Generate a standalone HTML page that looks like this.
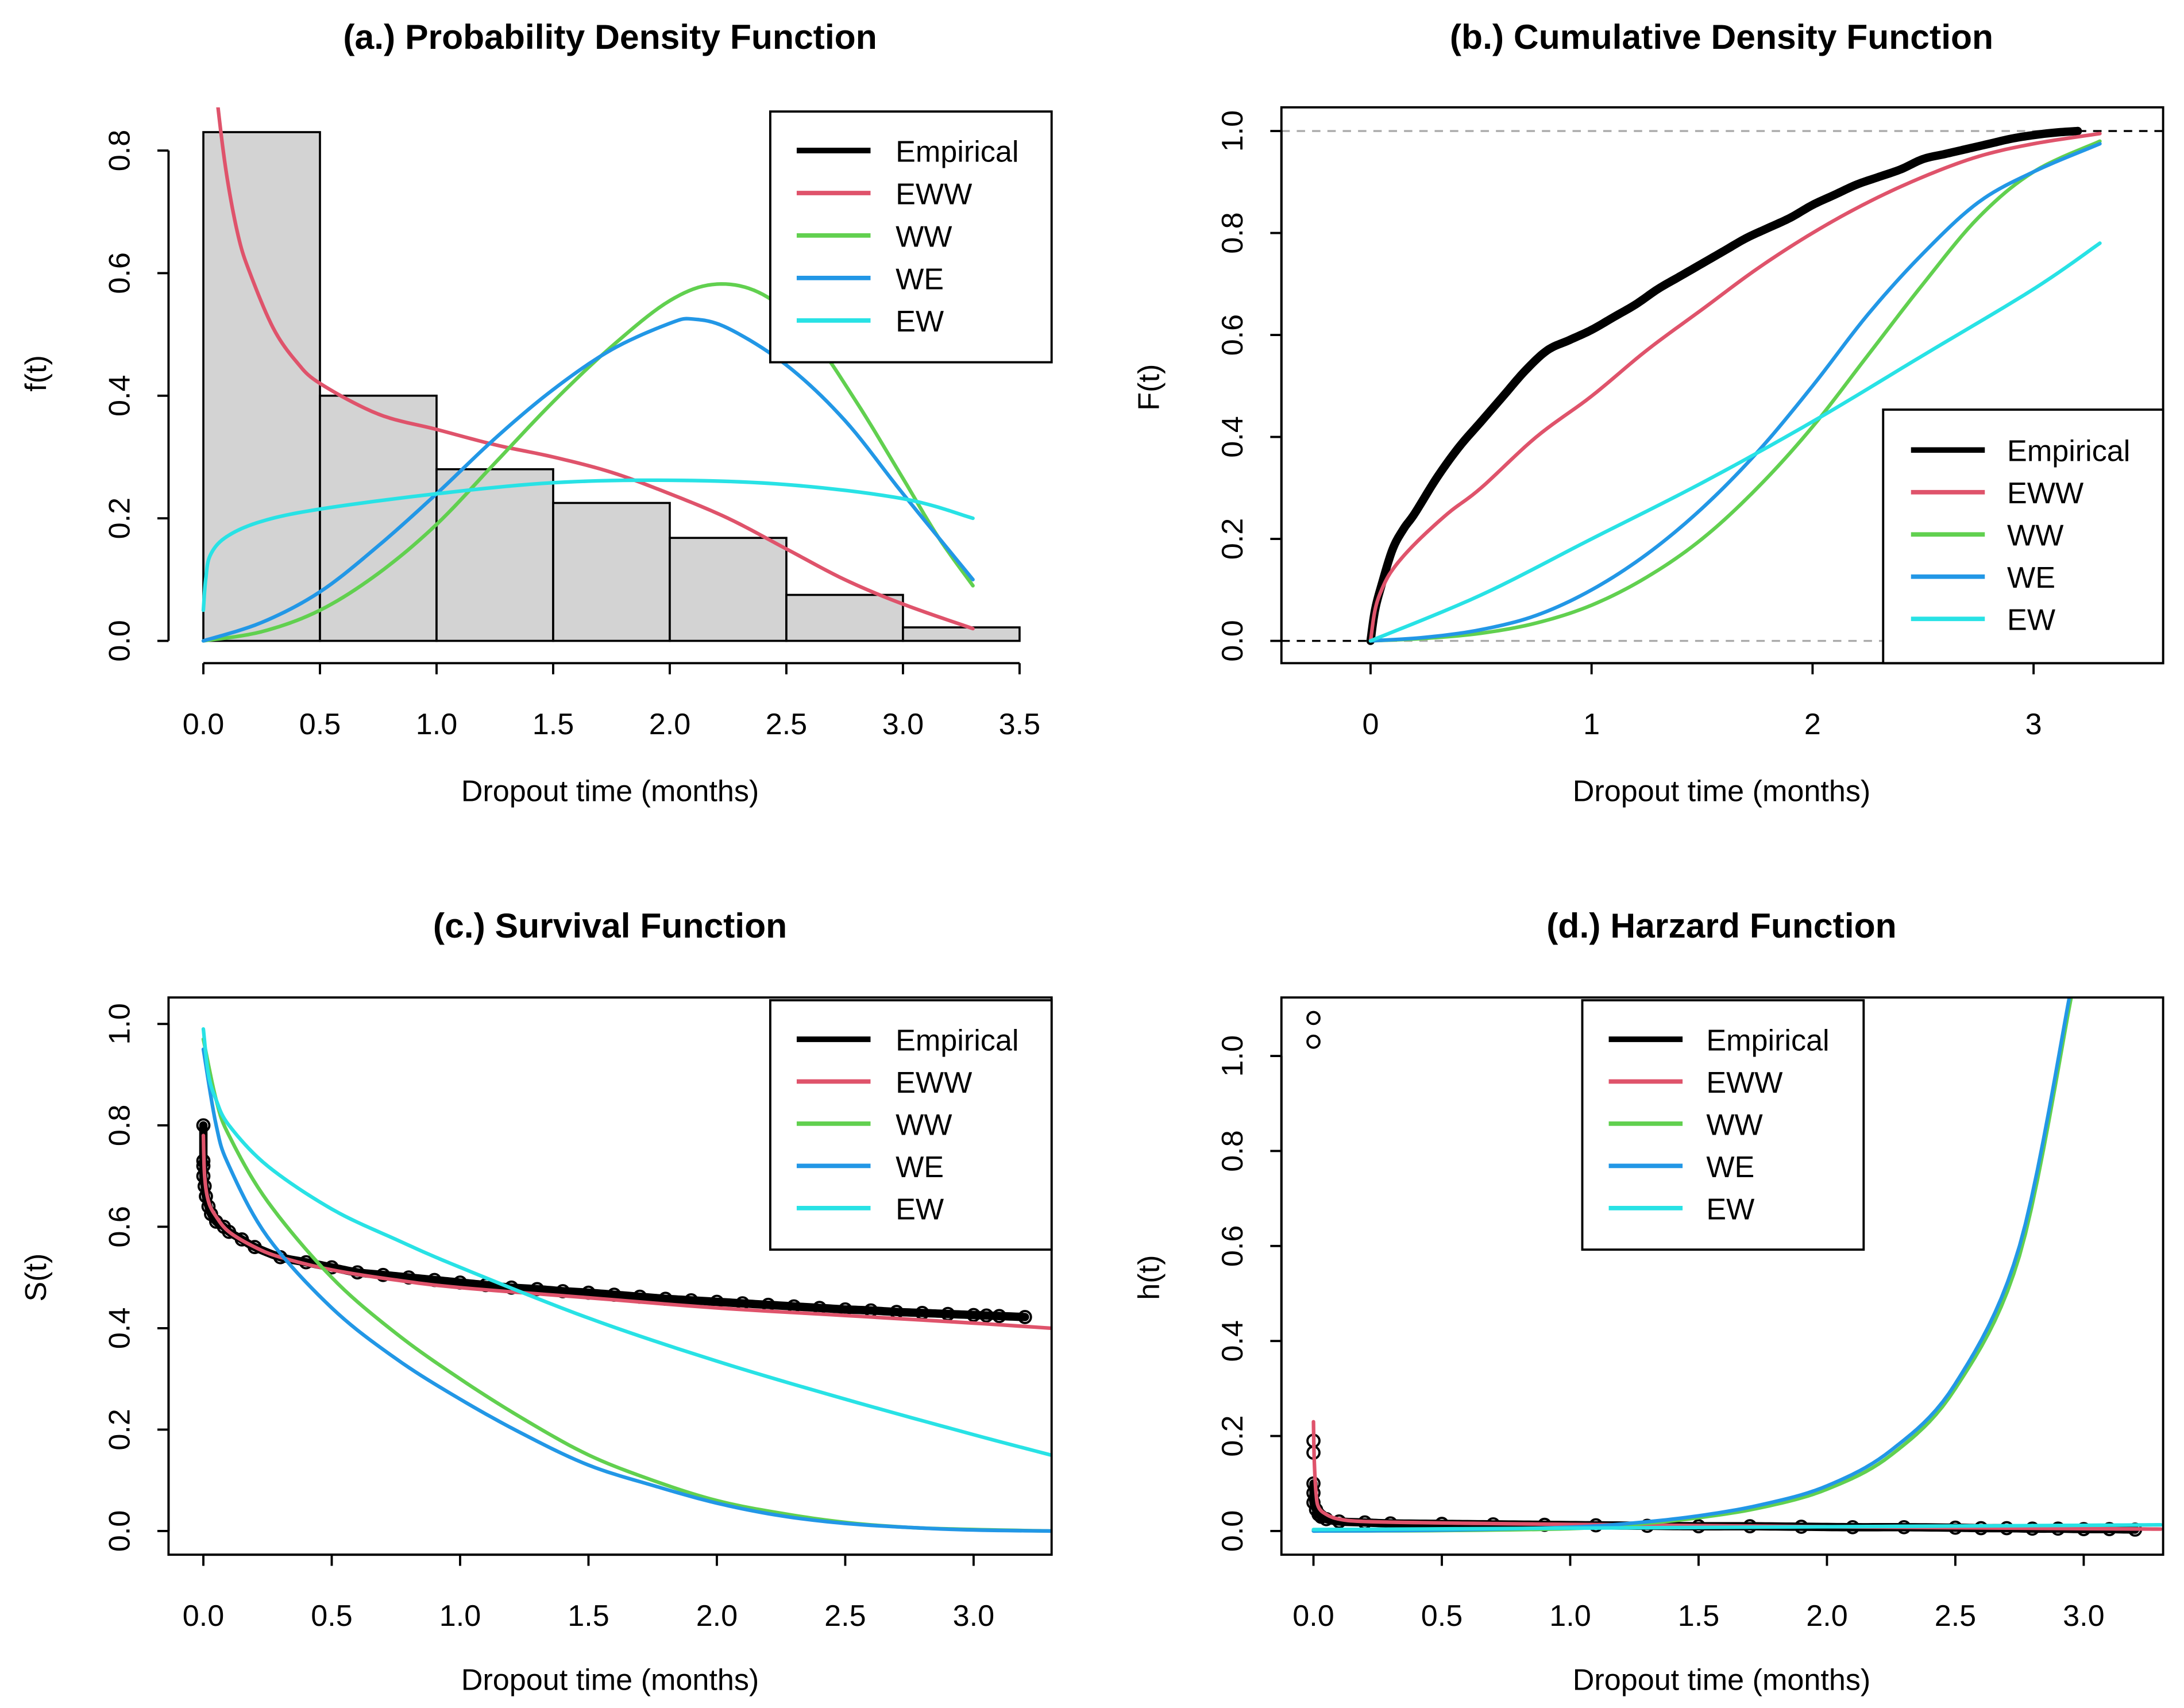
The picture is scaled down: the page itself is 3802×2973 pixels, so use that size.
<!DOCTYPE html>
<html><head><meta charset="utf-8"><style>
html,body{margin:0;padding:0;background:#fff}
svg{display:block}
text{font-family:"Liberation Sans",Arial,sans-serif}
</style></head><body>
<svg id="chart" width="3802" height="2973" viewBox="0 0 1568 1226" xmlns="http://www.w3.org/2000/svg">
<rect width="1568" height="1226" fill="#fff"/>
<defs>
<clipPath id="clipA"><rect x="121" y="77" width="634" height="399"/></clipPath>
<clipPath id="clipB"><rect x="920" y="77" width="633" height="399"/></clipPath>
<clipPath id="clipC"><rect x="121" y="716" width="634" height="400"/></clipPath>
<clipPath id="clipD"><rect x="920" y="716" width="633" height="400"/></clipPath>
</defs>
</svg>
<script>
// ===== DATA =====
const seriesNames = ["Empirical","EWW","WW","WE","EW"];
const seriesColors = ["#000000","#DF536B","#61D04F","#2297E6","#28E2E5"];
// Panel a: histogram + PDFs
const histBreaks = [0,0.5,1.0,1.5,2.0,2.5,3.0,3.5];
const histDensity = [0.83,0.40,0.28,0.225,0.168,0.075,0.022];
const pdfX_EWW = [0.03,0.06,0.1,0.15,0.2,0.3,0.4,0.5,0.75,1.0,1.25,1.5,1.75,2.0,2.25,2.5,2.75,3.0,3.3];
const pdfY_EWW = [1.0,0.88,0.76,0.66,0.6,0.51,0.455,0.42,0.37,0.345,0.32,0.30,0.275,0.24,0.2,0.15,0.1,0.06,0.02];
const pdfX_WW = [0,0.25,0.5,0.75,1.0,1.25,1.5,1.75,2.0,2.2,2.4,2.6,2.8,3.0,3.15,3.3];
const pdfY_WW = [0,0.015,0.05,0.11,0.19,0.29,0.39,0.48,0.555,0.582,0.565,0.5,0.39,0.265,0.17,0.09];
const pdfX_WE = [0,0.25,0.5,0.75,1.0,1.25,1.5,1.75,2.0,2.1,2.25,2.5,2.75,3.0,3.3];
const pdfY_WE = [0,0.03,0.08,0.155,0.24,0.33,0.41,0.475,0.518,0.525,0.51,0.45,0.36,0.24,0.10];
const pdfX_EW = [0,0.01,0.03,0.1,0.25,0.5,1.0,1.5,2.0,2.5,3.0,3.3];
const pdfY_EW = [0.05,0.1,0.14,0.17,0.195,0.215,0.24,0.258,0.262,0.255,0.232,0.2];
// Panel b: CDFs
const cdfX_Emp = [0,0.02,0.05,0.1,0.15,0.2,0.3,0.4,0.5,0.6,0.7,0.8,0.9,1.0,1.1,1.2,1.3,1.4,1.5,1.6,1.7,1.8,1.9,2.0,2.1,2.2,2.3,2.4,2.5,2.6,2.7,2.8,2.9,3.0,3.1,3.2];
const cdfY_Emp = [0,0.06,0.11,0.18,0.22,0.25,0.32,0.38,0.43,0.48,0.53,0.57,0.59,0.61,0.635,0.66,0.69,0.715,0.74,0.765,0.79,0.81,0.83,0.855,0.875,0.895,0.91,0.925,0.945,0.955,0.965,0.975,0.985,0.992,0.997,1.0];
const cdfX_EWW = [0,0.02,0.05,0.1,0.2,0.35,0.5,0.75,1.0,1.25,1.5,1.75,2.0,2.25,2.5,2.75,3.0,3.3];
const cdfY_EWW = [0,0.06,0.1,0.14,0.19,0.25,0.3,0.4,0.48,0.57,0.65,0.73,0.8,0.86,0.91,0.95,0.975,0.995];
const cdfX_WW = [0,0.25,0.5,0.75,1.0,1.25,1.5,1.75,2.0,2.25,2.5,2.75,3.0,3.3];
const cdfY_WW = [0,0.005,0.015,0.035,0.07,0.125,0.2,0.3,0.42,0.56,0.7,0.83,0.92,0.98];
const cdfX_WE = [0,0.25,0.5,0.75,1.0,1.25,1.5,1.75,2.0,2.25,2.5,2.75,3.0,3.3];
const cdfY_WE = [0,0.007,0.022,0.05,0.1,0.17,0.26,0.37,0.5,0.64,0.76,0.86,0.92,0.975];
const cdfX_EW = [0,0.5,1.0,1.5,2.0,2.5,3.0,3.3];
const cdfY_EW = [0,0.09,0.2,0.31,0.43,0.56,0.69,0.78];
// Panel c: survival
const survX_Emp = [0,0,0,0,0.005,0.01,0.02,0.03,0.05,0.08,0.1,0.15,0.2,0.3,0.4,0.5,0.6,0.7,0.8,0.9,1.0,1.1,1.2,1.3,1.4,1.5,1.6,1.7,1.8,1.9,2.0,2.1,2.2,2.3,2.4,2.5,2.6,2.7,2.8,2.9,3.0,3.05,3.1,3.2];
const survY_Emp = [0.8,0.73,0.72,0.7,0.68,0.66,0.64,0.625,0.61,0.6,0.59,0.575,0.56,0.54,0.53,0.52,0.51,0.505,0.5,0.495,0.49,0.485,0.48,0.477,0.473,0.47,0.466,0.462,0.458,0.455,0.452,0.449,0.446,0.443,0.44,0.437,0.435,0.432,0.43,0.428,0.426,0.425,0.424,0.422];
const survX_EWW = [0,0.005,0.02,0.05,0.1,0.2,0.3,0.5,0.75,1.0,1.5,2.0,2.5,3.0,3.3];
const survY_EWW = [0.78,0.7,0.65,0.62,0.59,0.56,0.54,0.515,0.495,0.48,0.46,0.44,0.425,0.41,0.4];
const survX_WW = [0,0.05,0.1,0.25,0.5,0.75,1.0,1.25,1.5,1.75,2.0,2.25,2.5,2.75,3.0,3.3];
const survY_WW = [0.97,0.85,0.78,0.65,0.5,0.39,0.3,0.22,0.15,0.1,0.06,0.035,0.017,0.007,0.003,0];
const survX_WE = [0,0.05,0.1,0.25,0.5,0.75,1.0,1.25,1.5,1.75,2.0,2.25,2.5,2.75,3.0,3.3];
const survY_WE = [0.95,0.8,0.72,0.58,0.44,0.34,0.26,0.19,0.13,0.09,0.055,0.03,0.015,0.007,0.002,0];
const survX_EW = [0,0.02,0.05,0.1,0.25,0.5,0.75,1.0,1.5,2.0,2.5,3.0,3.3];
const survY_EW = [0.99,0.9,0.85,0.8,0.72,0.635,0.575,0.52,0.42,0.335,0.26,0.19,0.15];
// Panel d: hazard
const hazX_Emp = [0,0,0,0,0,0,0,0.01,0.02,0.03,0.05,0.1,0.2,0.3,0.5,0.7,0.9,1.1,1.3,1.5,1.7,1.9,2.1,2.3,2.5,2.6,2.7,2.8,2.9,3.0,3.1,3.2];
const hazY_Emp = [1.08,1.03,0.19,0.165,0.1,0.08,0.06,0.045,0.035,0.03,0.025,0.02,0.018,0.016,0.015,0.014,0.013,0.012,0.011,0.01,0.01,0.009,0.008,0.008,0.007,0.006,0.006,0.005,0.005,0.004,0.004,0.003];
const hazX_EWW = [0,0.003,0.01,0.02,0.05,0.1,0.2,0.5,1.0,2.0,3.0,3.3];
const hazY_EWW = [0.23,0.15,0.08,0.05,0.035,0.025,0.02,0.017,0.014,0.009,0.005,0.004];
const hazX_WW = [0,0.5,1.0,1.25,1.5,1.75,2.0,2.25,2.5,2.75,2.95];
const hazY_WW = [0,0.001,0.005,0.014,0.028,0.05,0.088,0.16,0.3,0.58,1.12];
const hazX_WE = [0,0.5,1.0,1.25,1.5,1.75,2.0,2.25,2.5,2.75,2.95];
const hazY_WE = [0,0.002,0.008,0.017,0.032,0.056,0.095,0.17,0.31,0.6,1.14];
const hazX_EW = [0,1.0,2.0,3.0,3.3];
const hazY_EW = [0.003,0.006,0.009,0.012,0.013];

// ===== DRAWING =====
const svg = document.getElementById('chart');
const NS = 'http://www.w3.org/2000/svg';
const FS = 21.5, TFS = 25;
function mk(tag, attrs, parent, txt){
  const e = document.createElementNS(NS, tag);
  for (const k in attrs) e.setAttribute(k, attrs[k]);
  if (txt !== undefined) e.textContent = txt;
  (parent||svg).appendChild(e);
  return e;
}
function lin(d0,d1,r0,r1){return v=>r0+(v-d0)*(r1-r0)/(d1-d0);}
function smooth(xs, ys){
  const pts=[];
  const n=xs.length;
  for(let i=0;i<n-1;i++){
    const p0=[xs[Math.max(0,i-1)],ys[Math.max(0,i-1)]],p1=[xs[i],ys[i]],p2=[xs[i+1],ys[i+1]],p3=[xs[Math.min(n-1,i+2)],ys[Math.min(n-1,i+2)]];
    for(let t=0;t<1;t+=0.1){
      const t2=t*t,t3=t2*t;
      const f=(a,b,c,d)=>0.5*((2*b)+(-a+c)*t+(2*a-5*b+4*c-d)*t2+(-a+3*b-3*c+d)*t3);
      pts.push([f(p0[0],p1[0],p2[0],p3[0]),f(p0[1],p1[1],p2[1],p3[1])]);
    }
  }
  pts.push([xs[n-1],ys[n-1]]);
  return pts;
}
function curve(g, xs, ys, sx, sy, color, name, w){
  const pts = smooth(xs, ys);
  const d = pts.map((p,i)=>(i?'L':'M')+sx(p[0]).toFixed(2)+','+sy(p[1]).toFixed(2)).join('');
  const p = mk('path',{d:d,fill:'none',stroke:color,'stroke-width':w||2.6,'stroke-linejoin':'round','stroke-linecap':'round'},g);
  
  
  return p;
}
function points(g, xs, ys, sx, sy, name){
  const grp = mk('g',{},g);
  
  
  for(let i=0;i<xs.length;i++){
    const c = mk('circle',{cx:sx(xs[i]),cy:sy(ys[i]),r:4.3,fill:'none',stroke:'#000','stroke-width':1.6},grp);
    
    
  }
}
function xAxis(g, ticks, labels, sx, y, name){
  const ax = mk('g',{},g);
  
  
  mk('line',{x1:sx(ticks[0]),x2:sx(ticks[ticks.length-1]),y1:y,y2:y,stroke:'#000','stroke-width':1.6},ax);
  ticks.forEach((t,i)=>{
    mk('line',{x1:sx(t),x2:sx(t),y1:y,y2:y+8,stroke:'#000','stroke-width':1.6},ax);
    const tl = mk('text',{x:sx(t),y:y+51,'font-size':FS,'text-anchor':'middle'},ax,labels[i]);
    
    
  });
}
function yAxis(g, ticks, labels, sy, x, name){
  const ax = mk('g',{},g);
  
  
  mk('line',{x1:x,x2:x,y1:sy(ticks[0]),y2:sy(ticks[ticks.length-1]),stroke:'#000','stroke-width':1.6},ax);
  ticks.forEach((t,i)=>{
    mk('line',{x1:x-8,x2:x,y1:sy(t),y2:sy(t),stroke:'#000','stroke-width':1.6},ax);
    const tx = x-28, ty = sy(t);
    const tl = mk('text',{x:tx,y:ty,'font-size':FS,'text-anchor':'middle',transform:`rotate(-90 ${tx} ${ty})`},ax,labels[i]);
    
    
  });
}
function labels(g, title, tx, ty, ylab, ylx, yly, xlx, xly){
  const t = mk('text',{x:tx,y:ty,'font-size':TFS,'font-weight':'bold','text-anchor':'middle'},g,title);
  
  
  const yl = mk('text',{x:ylx,y:yly,'font-size':FS,'text-anchor':'middle',transform:`rotate(-90 ${ylx} ${yly})`},g,ylab);
  
  
  const xl = mk('text',{x:xlx,y:xly,'font-size':FS,'text-anchor':'middle'},g,'Dropout time (months)');
  
  
}
function legend(g, x, y, w, h, lineX, textX, rowY0, rowDy){
  const lg = mk('g',{},g);
  
  
  mk('rect',{x:x,y:y,width:w,height:h,fill:'#fff',stroke:'#000','stroke-width':1.6},lg);
  seriesNames.forEach((n,i)=>{
    const ry = rowY0 + i*rowDy;
    const e = mk('g',{},lg);
    
    
    mk('line',{x1:lineX,x2:lineX+53,y1:ry,y2:ry,stroke:seriesColors[i],'stroke-width':i===0?4:3.2},e);
    mk('text',{x:textX,y:ry+8,'font-size':FS},e,n);
  });
}
function box(g,x,y,w,h){mk('rect',{x:x,y:y,width:w,height:h,fill:'none',stroke:'#000','stroke-width':1.6},g);}

// ---- Panel A
(function(){
  const g = mk('g',{});  
  const sx = lin(0,3.5,146,732), sy = lin(0,0.8,460,108);
  const hg = mk('g',{},g);  
  histDensity.forEach((d,i)=>{
    const r = mk('rect',{x:sx(histBreaks[i]),y:sy(d),width:sx(histBreaks[i+1])-sx(histBreaks[i]),height:sy(0)-sy(d),fill:'#D3D3D3',stroke:'#000','stroke-width':1.5},hg);
    
    
  });
  const cg = mk('g',{'clip-path':'url(#clipA)'},g);
  curve(cg,pdfX_EWW,pdfY_EWW,sx,sy,seriesColors[1],'eww-pdf-curve');
  curve(cg,pdfX_WW,pdfY_WW,sx,sy,seriesColors[2],'ww-pdf-curve');
  curve(cg,pdfX_WE,pdfY_WE,sx,sy,seriesColors[3],'we-pdf-curve');
  curve(cg,pdfX_EW,pdfY_EW,sx,sy,seriesColors[4],'ew-pdf-curve');
  xAxis(g,[0,0.5,1,1.5,2,2.5,3,3.5],['0.0','0.5','1.0','1.5','2.0','2.5','3.0','3.5'],sx,476,'x-axis');
  yAxis(g,[0,0.2,0.4,0.6,0.8],['0.0','0.2','0.4','0.6','0.8'],sy,121,'y-axis');
  legend(g,553,80,202,180,572,643,108,30.5);
  labels(g,'(a.) Probability Density Function',438,35,'f(t)',33,268,438,575);
})();
// ---- Panel B
(function(){
  const g = mk('g',{});  
  const sx = lin(0,3,984,1460), sy = lin(0,1,460,94);
  mk('line',{x1:920,x2:1553,y1:sy(0),y2:sy(0),stroke:'#aaa','stroke-width':1.4,'stroke-dasharray':'6,5'},g);
  mk('line',{x1:920,x2:1553,y1:sy(1),y2:sy(1),stroke:'#aaa','stroke-width':1.4,'stroke-dasharray':'6,5'},g);
  mk('line',{x1:920,x2:sx(0),y1:sy(0),y2:sy(0),stroke:'#000','stroke-width':1.4,'stroke-dasharray':'6,5'},g);
  mk('line',{x1:sx(3.2),x2:1553,y1:sy(1),y2:sy(1),stroke:'#000','stroke-width':1.4,'stroke-dasharray':'6,5'},g);
  const cg = mk('g',{'clip-path':'url(#clipB)'},g);
  curve(cg,cdfX_Emp,cdfY_Emp,sx,sy,'#000','empirical-cdf',6);
  curve(cg,cdfX_EWW,cdfY_EWW,sx,sy,seriesColors[1],'eww-cdf-curve');
  curve(cg,cdfX_WW,cdfY_WW,sx,sy,seriesColors[2],'ww-cdf-curve');
  curve(cg,cdfX_WE,cdfY_WE,sx,sy,seriesColors[3],'we-cdf-curve');
  curve(cg,cdfX_EW,cdfY_EW,sx,sy,seriesColors[4],'ew-cdf-curve');
  box(g,920,77,633,399);
  xAxis(g,[0,1,2,3],['0','1','2','3'],sx,476,'x-axis');
  yAxis(g,[0,0.2,0.4,0.6,0.8,1.0],['0.0','0.2','0.4','0.6','0.8','1.0'],sy,920,'y-axis');
  legend(g,1352,294,201,182,1372,1441,323,30.3);
  labels(g,'(b.) Cumulative Density Function',1236,35,'F(t)',832,278,1236,575);
})();
// ---- Panel C
(function(){
  const g = mk('g',{});  
  const sx = lin(0,3,146,699), sy = lin(0,1,1099,735);
  const cg = mk('g',{'clip-path':'url(#clipC)'},g);
  curve(cg,survX_Emp,survY_Emp,sx,sy,'#000','empirical-survival-band',6);
  points(cg,survX_Emp,survY_Emp,sx,sy,'empirical-survival-points');
  curve(cg,survX_EWW,survY_EWW,sx,sy,seriesColors[1],'eww-survival-curve');
  curve(cg,survX_WW,survY_WW,sx,sy,seriesColors[2],'ww-survival-curve');
  curve(cg,survX_WE,survY_WE,sx,sy,seriesColors[3],'we-survival-curve');
  curve(cg,survX_EW,survY_EW,sx,sy,seriesColors[4],'ew-survival-curve');
  box(g,121,716,634,400);
  xAxis(g,[0,0.5,1,1.5,2,2.5,3],['0.0','0.5','1.0','1.5','2.0','2.5','3.0'],sx,1116,'x-axis');
  yAxis(g,[0,0.2,0.4,0.6,0.8,1.0],['0.0','0.2','0.4','0.6','0.8','1.0'],sy,121,'y-axis');
  legend(g,553,718,202,179,572,643,746,30.3);
  labels(g,'(c.) Survival Function',438,673,'S(t)',33,917,438,1213);
})();
// ---- Panel D
(function(){
  const g = mk('g',{});  
  const sx = lin(0,3,943,1496), sy = lin(0,1,1099,758);
  const cg = mk('g',{'clip-path':'url(#clipD)'},g);
  curve(cg,hazX_Emp.slice(4),hazY_Emp.slice(4),sx,sy,'#000','empirical-hazard-band',6);
  points(cg,hazX_Emp,hazY_Emp,sx,sy,'empirical-hazard-points');
  curve(cg,hazX_EWW,hazY_EWW,sx,sy,seriesColors[1],'eww-hazard-curve');
  curve(cg,hazX_WW,hazY_WW,sx,sy,seriesColors[2],'ww-hazard-curve');
  curve(cg,hazX_WE,hazY_WE,sx,sy,seriesColors[3],'we-hazard-curve');
  curve(cg,hazX_EW,hazY_EW,sx,sy,seriesColors[4],'ew-hazard-curve');
  box(g,920,716,633,400);
  xAxis(g,[0,0.5,1,1.5,2,2.5,3],['0.0','0.5','1.0','1.5','2.0','2.5','3.0'],sx,1116,'x-axis');
  yAxis(g,[0,0.2,0.4,0.6,0.8,1.0],['0.0','0.2','0.4','0.6','0.8','1.0'],sy,920,'y-axis');
  legend(g,1136,718,202,179,1155,1225,746,30.3);
  labels(g,'(d.) Harzard Function',1236,673,'h(t)',832,917,1236,1213);
})();
</script>
</body></html>
